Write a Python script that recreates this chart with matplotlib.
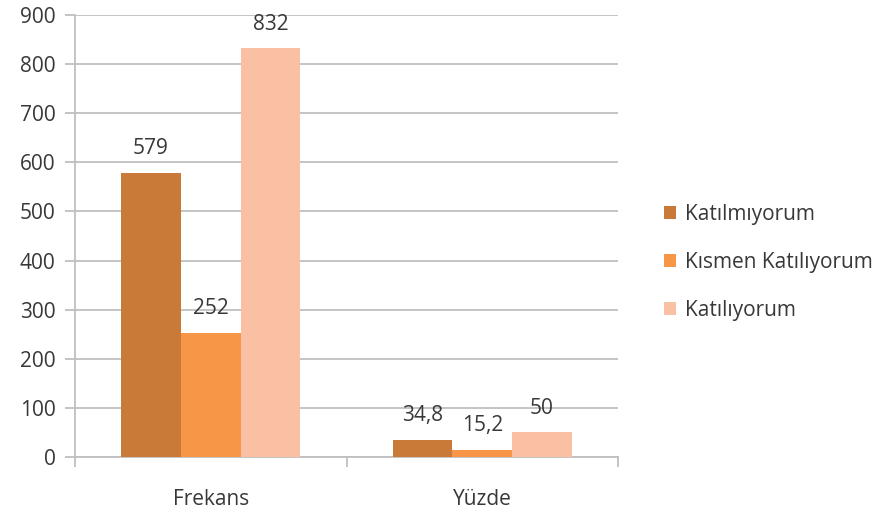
import matplotlib.pyplot as plt
import numpy as np

plt.rcParams['font.family'] = ['Open Sans', 'DejaVu Sans']

categories = ['Frekans', 'Yüzde']
series_names = ['Katılmıyorum', 'Kısmen Katılıyorum', 'Katılıyorum']
values = [
    [579, 34.8],
    [252, 15.2],
    [832, 50],
]
value_labels = [
    ['579', '34,8'],
    ['252', '15,2'],
    ['832', '50'],
]
colors = ['#C97A38', '#F79646', '#FAC0A3']

fig = plt.figure(figsize=(8.79, 5.18), dpi=100)
ax = fig.add_axes([0.0853, 0.1178, 0.6178, 0.8532])

x = np.arange(len(categories))
width = 0.22
grid_col = '#BFBFBF'
text_col = '#383838'
fs = 15

for i, (name, vals) in enumerate(zip(series_names, values)):
    pos = x + (i - 1) * width
    bars = ax.bar(pos, vals, width, color=colors[i], label=name, zorder=3)
    for b, lab in zip(bars, value_labels[i]):
        ax.annotate(lab, (b.get_x() + b.get_width() / 2, b.get_height()),
                    xytext=(0, 10), textcoords='offset points',
                    ha='center', va='bottom', fontsize=fs, color=text_col,
                    zorder=4)

ax.set_xlim(-0.5, 1.5)
ax.set_ylim(0, 900)
ax.set_yticks(np.arange(0, 901, 100))
ax.yaxis.grid(True, color=grid_col, linewidth=1.3, zorder=0)
ax.set_axisbelow(True)

ax.set_xticks(x)
ax.set_xticklabels(categories)
ax.set_xticks([-0.5, 0.5, 1.5], minor=True)
ax.tick_params(axis='x', which='major', length=0, pad=23, labelsize=fs,
               labelcolor=text_col)
ax.tick_params(axis='x', which='minor', length=7, width=1.3, color=grid_col)
ax.tick_params(axis='y', length=7, width=1.3, color=grid_col, labelsize=fs,
               labelcolor=text_col, pad=7)

for side in ['top', 'right']:
    ax.spines[side].set_visible(False)
for side in ['left', 'bottom']:
    ax.spines[side].set_color(grid_col)
    ax.spines[side].set_linewidth(1.3)

fig.legend(loc='center left', bbox_to_anchor=(0.734, 0.494), frameon=False,
           fontsize=fs, handlelength=0.6, handleheight=0.6, handletextpad=0.4,
           labelspacing=1.3, labelcolor=text_col)

fig.savefig('out.png', dpi=100)
